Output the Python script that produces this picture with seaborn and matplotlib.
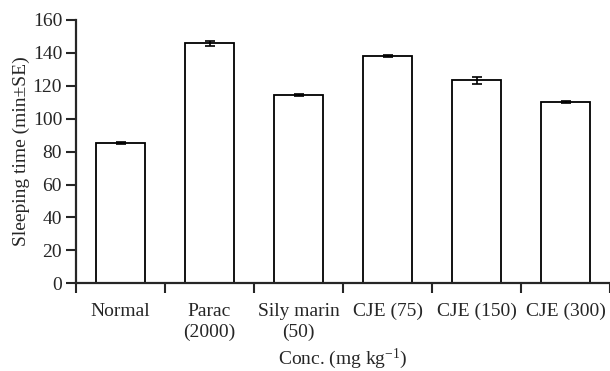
import numpy as np
import pandas as pd
import matplotlib
matplotlib.use("Agg")
import matplotlib.pyplot as plt
from matplotlib.ticker import FixedLocator
import seaborn as sns

# Data
groups = ["Normal", "Parac\n(2000)", "Sily marin\n(50)", "CJE (75)", "CJE (150)", "CJE (300)"]
sleep_time = [85.3, 145.8, 114.4, 138.1, 123.2, 110.0]
sleep_se = [0.6, 1.5, 0.5, 0.6, 2.0, 0.5]

sns.set_style("ticks")
plt.rcParams["font.family"] = ["Liberation Serif", "DejaVu Serif"]
plt.rcParams["mathtext.fontset"] = "custom"
plt.rcParams["mathtext.rm"] = "Liberation Serif"
plt.rcParams["mathtext.it"] = "Liberation Serif:italic"

df = pd.DataFrame({"group": groups, "time": sleep_time, "se": sleep_se})

fig = plt.figure(figsize=(6.1, 3.71), dpi=100)
ax = fig.add_axes([0.1246, 0.236, 0.8754, 0.711])

sns.barplot(data=df, x="group", y="time", color="white", edgecolor="black",
            linewidth=1.3, width=0.56, errorbar=None, ax=ax)
for p in ax.patches:
    p.set_facecolor("white")
ax.errorbar(np.arange(len(groups)), df["time"], yerr=df["se"], fmt="none",
            ecolor="black", elinewidth=1.2, capsize=3.5, capthick=1.2)

ax.set_xlim(-0.5, len(groups) - 0.5)
ax.set_ylim(0, 160)
ax.set_yticks(np.arange(0, 161, 20))
ax.xaxis.set_minor_locator(FixedLocator(np.arange(-0.5, len(groups), 1.0)))
ax.tick_params(axis="x", which="major", length=0, pad=14, labelsize=14)
ax.tick_params(axis="x", which="minor", length=7, width=1.5, direction="out")
ax.tick_params(axis="y", length=7, width=1.5, pad=3, labelsize=14)
for lbl in ax.get_xticklabels():
    lbl.set_linespacing(1.3)

sns.despine(ax=ax)
for s in ["left", "bottom"]:
    ax.spines[s].set_linewidth(1.6)

ax.set_xlabel("Conc. (mg kg$^{-1}$)", fontsize=14, labelpad=4)
ax.set_ylabel("Sleeping time (min\u00b1SE)", fontsize=14, labelpad=2)

fig.savefig("out.png", dpi=100)
